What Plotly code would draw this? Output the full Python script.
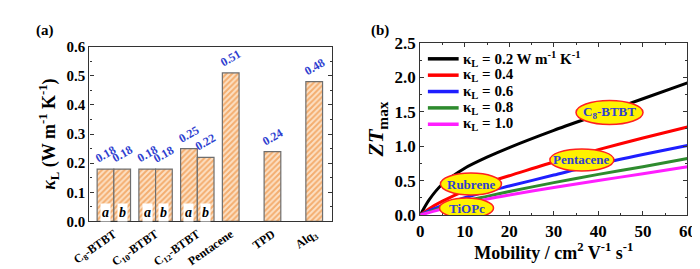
import plotly.graph_objects as go

# ---------------- Data: panel (a) ----------------
groups = ["C<sub>8</sub>-BTBT", "C<sub>10</sub>-BTBT", "C<sub>12</sub>-BTBT", "Pentacene", "TPD", "Alq<sub>3</sub>"]
bar_group = [0, 0, 1, 1, 2, 2, 3, 4, 5]
bar_slot = [0, 1, 0, 1, 0, 1, 0, 0, 0]
bar_tag = ["a", "b", "a", "b", "a", "b", "", "", ""]
kappa_L = [0.18, 0.18, 0.18, 0.18, 0.25, 0.22, 0.51, 0.24, 0.48]
bars_per_group = [2, 2, 2, 1, 1, 1]

# ---------------- Data: panel (b) ----------------
mobility = [0, 2, 5, 10, 15, 20, 30, 40, 50, 60]
zt_02 = [0, 0.22, 0.45, 0.68, 0.84, 0.98, 1.23, 1.46, 1.69, 1.92]
zt_04 = [0, 0.09, 0.20, 0.35, 0.47, 0.57, 0.77, 0.95, 1.12, 1.28]
zt_06 = [0, 0.06, 0.14, 0.25, 0.34, 0.42, 0.58, 0.74, 0.88, 1.01]
zt_08 = [0, 0.045, 0.11, 0.20, 0.27, 0.34, 0.47, 0.59, 0.70, 0.82]
zt_10 = [0, 0.035, 0.09, 0.16, 0.23, 0.29, 0.40, 0.50, 0.60, 0.70]
curve_labels = ["κ<sub>L</sub> = 0.2 W m<sup>-1</sup> K<sup>-1</sup>", "κ<sub>L</sub> = 0.4",
                "κ<sub>L</sub> = 0.6", "κ<sub>L</sub> = 0.8", "κ<sub>L</sub> = 1.0"]
curve_colors = ["#000000", "#FF0000", "#1E1EFF", "#2E8B2E", "#FF1EFF"]

materials = ["C<sub>8</sub>-BTBT", "Pentacene", "Rubrene", "TiOPc"]
mat_mobility = [42.5, 36.3, 11.4, 10.4]
mat_zt = [1.49, 0.80, 0.45, 0.10]
mat_w = [67, 64, 61, 54]
mat_h = [24, 22, 22, 20]

SERIF = "Liberation Serif, Times New Roman, serif"
BW = 0.4
W, H = 700, 269

fig = go.Figure()

bar_x = [g + BW / 2 + s * BW for g, s in zip(bar_group, bar_slot)]
fig.add_trace(go.Bar(
    x=bar_x, y=kappa_L, width=BW, xaxis="x", yaxis="y", showlegend=False,
    marker=dict(color="#EC7A1A", line=dict(color="#6E6E6E", width=1.2),
                pattern=dict(shape="/", fgcolor="#EC7A1A", bgcolor="#FCE0C4", size=4, solidity=0.5)),
))

annotations = []
for x, v, t in zip(bar_x, kappa_L, bar_tag):
    annotations.append(dict(x=x, y=v, xref="x", yref="y", text="<b>%.2f</b>" % v, showarrow=False,
                            textangle=-30, yshift=15,
                            font=dict(family=SERIF, size=12, color="#2F3FD0")))
    if t:
        annotations.append(dict(x=x, y=0, xref="x", yref="y", text="<b><i>%s</i></b>" % t, showarrow=False,
                                yshift=9, bgcolor="white", borderpad=1,
                                font=dict(family=SERIF, size=14, color="black")))

tick_pos = [g + BW * n / 2 for g, n in zip(range(len(groups)), bars_per_group)]

for lab, ys, col in zip(curve_labels, [zt_02, zt_04, zt_06, zt_08, zt_10], curve_colors):
    fig.add_trace(go.Scatter(x=mobility, y=ys, mode="lines", name=lab, xaxis="x2", yaxis="y2",
                             showlegend=False,
                             line=dict(color=col, width=3, shape="spline", smoothing=0.7)))

shapes = []
# manual legend (top-left of panel b)
for i, (lab, col) in enumerate(zip(curve_labels, curve_colors)):
    yy = 1 - (45 + 17.6 * i) / H
    shapes.append(dict(type="line", xref="paper", yref="paper", x0=418 / W, x1=450 / W, y0=yy, y1=yy,
                       line=dict(color=col, width=3.5)))
    annotations.append(dict(x=452 / W, y=yy, xref="paper", yref="paper", xanchor="left", yanchor="middle",
                            text="<b>%s</b>" % lab, showarrow=False,
                            font=dict(family=SERIF, size=15, color="black")))

for m, mx, my, w, h in zip(materials, mat_mobility, mat_zt, mat_w, mat_h):
    shapes.append(dict(type="circle", xref="x2", yref="y2", xsizemode="pixel", ysizemode="pixel",
                       xanchor=mx, yanchor=my, x0=-w / 2, x1=w / 2, y0=-h / 2, y1=h / 2,
                       fillcolor="#FFF200", line=dict(color="#FF2020", width=1.5), layer="above"))
    annotations.append(dict(x=mx, y=my, xref="x2", yref="y2", text="<b>%s</b>" % m, showarrow=False,
                            font=dict(family=SERIF, size=13, color="#2F3FD0")))

annotations.append(dict(x=8 / W, y=1 - 3 / H, xref="paper", yref="paper", xanchor="left", yanchor="top",
                        text="<b>(a)</b>", showarrow=False, font=dict(family=SERIF, size=15, color="black")))
annotations.append(dict(x=357 / W, y=1 - 3 / H, xref="paper", yref="paper", xanchor="left", yanchor="top",
                        text="<b>(b)</b>", showarrow=False, font=dict(family=SERIF, size=15, color="black")))

axis_common = dict(showline=True, linecolor="#333333", linewidth=1.3, mirror="ticks",
                   ticks="inside", ticklen=4, tickcolor="#333333", showgrid=False, zeroline=False)

fig.update_layout(
    width=W, height=H, margin=dict(l=0, r=0, t=0, b=0),
    paper_bgcolor="white", plot_bgcolor="white",
    font=dict(family=SERIF, color="black"),
    showlegend=False,
    xaxis=dict(domain=[66 / W, 318 / W], range=[-0.184, 5.62], anchor="y",
               showline=True, linecolor="#333333", linewidth=1.3, mirror=True, ticks="",
               showgrid=False, zeroline=False, tickvals=tick_pos, ticktext=groups, tickangle=-35,
               ticklabelstandoff=0,
               tickfont=dict(family=SERIF, size=12, weight="bold")),
    yaxis=dict(domain=[1 - 220 / H, 1 - 32 / H], range=[0, 0.6], anchor="x", dtick=0.1,
               tickformat=".1f", tickfont=dict(family=SERIF, size=15, weight="bold"),
               minor=dict(ticks="inside", ticklen=2, dtick=0.05, tickcolor="#333333"),
               title=dict(text="<i>κ</i><sub>L</sub> (W m<sup>-1</sup> K<sup>-1</sup>)", standoff=6,
                          font=dict(family=SERIF, size=18, weight="bold")),
               **axis_common),
    xaxis2=dict(domain=[410 / W, 688 / W], range=[0, 60], anchor="y2", dtick=10,
                tickfont=dict(family=SERIF, size=17, weight="bold"),
                minor=dict(ticks="inside", ticklen=2, dtick=5, tickcolor="#333333"),
                title=dict(text="Mobility / cm<sup>2</sup> V<sup>-1</sup> s<sup>-1</sup>", standoff=2,
                           font=dict(family=SERIF, size=18, weight="bold")),
                **axis_common),
    yaxis2=dict(domain=[1 - 213 / H, 1 - 28 / H], range=[0, 2.5], anchor="x2", dtick=0.5,
                tickformat=".1f", tickfont=dict(family=SERIF, size=17, weight="bold"),
                minor=dict(ticks="inside", ticklen=2, dtick=0.25, tickcolor="#333333"),
                title=dict(text="<i>ZT</i><sub>max</sub>", standoff=4,
                           font=dict(family=SERIF, size=22, weight="bold")),
                **axis_common),
    shapes=shapes, annotations=annotations,
)

fig.write_html("out.html")
